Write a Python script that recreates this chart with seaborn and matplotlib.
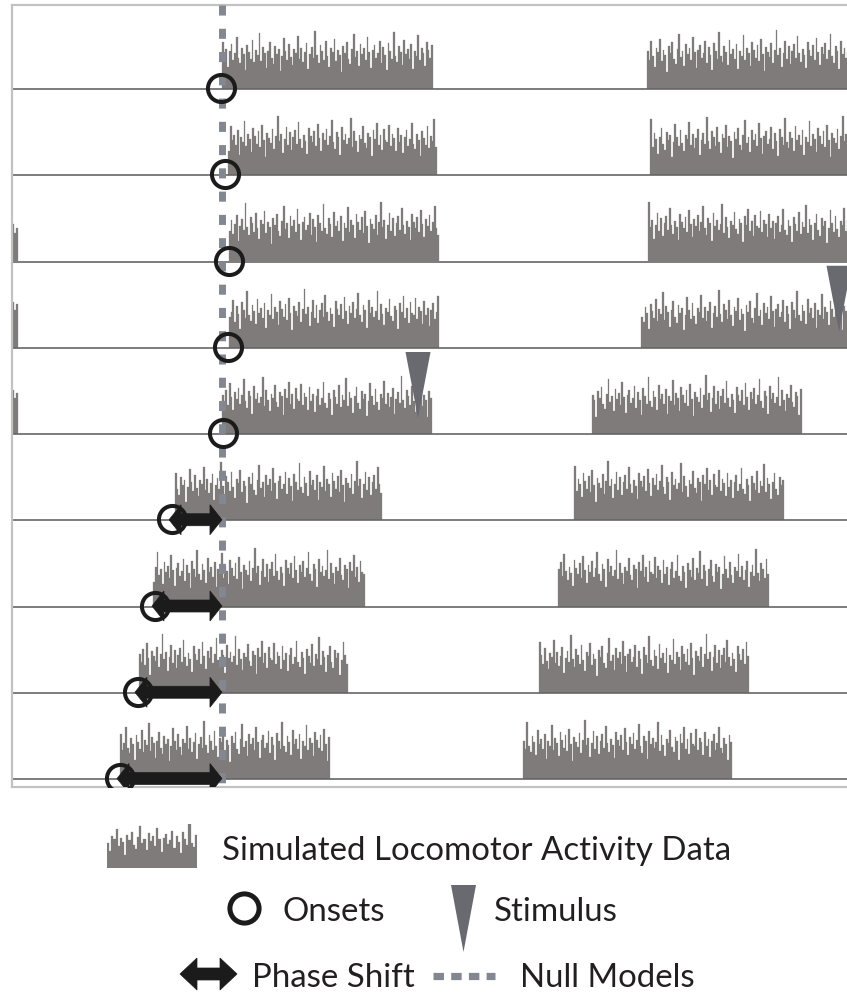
import numpy as np
import matplotlib
matplotlib.use("Agg")
import matplotlib.pyplot as plt
import seaborn as sns
from matplotlib.patches import Polygon

sns.set_theme(style="white")
plt.rcParams['font.family'] = ['Lato', 'DejaVu Sans']

# ---------------- data ----------------
# activity counts per bin (hand-read approximations of the bar heights)
activity = [
    47, 33, 40, 22, 38, 45, 29, 36, 52, 31, 26, 41, 35, 19, 44, 37, 30, 49, 27, 39,
    34, 56, 28, 42, 36, 21, 38, 47, 31, 25, 43, 35, 40, 18, 33, 51, 38, 29, 45, 32,
    24, 40, 36, 53, 30, 41, 27, 37, 46, 20, 35, 42, 31, 58, 34, 26, 44, 38, 29, 48,
    33, 22, 41, 37, 50, 28, 39, 34, 17, 43, 36, 47, 30, 25, 40, 55, 32, 38, 23, 45,
    35, 41, 29, 52, 37, 21, 39, 44, 31, 36, 48, 26, 42, 34, 19, 46, 38, 30, 57, 33,
    27, 43, 37, 24, 49, 35, 40, 30, 45, 20, 38, 33, 54, 29, 41, 36, 23, 47, 39, 31,
    44, 28, 50, 35, 18, 42, 37, 32, 46, 26, 39, 59, 34, 41, 22, 36, 48, 30, 43, 25,
    38, 45, 31, 53, 36, 27, 40, 34, 21, 47, 39, 33, 44, 29, 51, 37, 24, 42, 35, 46,
    30, 39, 55, 33, 26, 43, 38, 20, 48, 35, 41, 31, 37, 57, 28, 44, 34, 23, 40, 36,
    49, 32, 27, 42, 38, 19, 45, 36, 52, 30, 40, 25, 46, 35, 33, 50, 29, 41, 37, 24,
]

# activity bouts per day (hours on a 48 h double-plotted axis): start, end, offset into activity
row_bouts = [
    [(12.07, 24.20, 0),   (36.50, 48.50, 57)],
    [(12.42, 24.43, 103), (36.68, 48.50, 21)],
    [(12.47, 24.55, 44),  (36.56, 48.50, 131)],
    [(12.47, 24.55, 88),  (36.16, 48.50, 9)],
    [(12.07, 24.14, 150), (33.34, 45.41, 66)],
    [(9.37, 21.27, 27),   (32.31, 44.38, 112)],
    [(8.11, 20.29, 73),   (31.39, 43.52, 140)],
    [(7.30, 19.31, 118),  (30.29, 42.37, 35)],
    [(6.21, 18.28, 5),    (29.37, 41.39, 96)],
]
# tail of the previous day's bout visible at the left edge (rows 3-5)
tail_rows = [2, 3, 4]
tail_counts = [[37, 28, 33], [46, 38, 44], [44, 36, 41]]

onsets = [12.01, 12.24, 12.47, 12.42, 12.13, 9.20, 8.22, 7.24, 6.21]
null_model = 12.07
shift_rows = [5, 6, 7, 8]
stimulus_rows = [3, 4]
stimulus_times = [47.54, 23.34]

legend_labels = ["Simulated Locomotor Activity Data", "Onsets", "Stimulus",
                 "Phase Shift", "Null Models"]

# ---------------- style / layout ----------------
W_PX, H_PX = 847, 996
BAR = '#7f7b7b'
TRI = '#696a6f'
DASH = '#838890'
INK = '#1b1b1b'
TXT = '#231f20'
BIN_H = 0.10
SPAN = 48.0
LEFT_PX = 12
PX_PER_H = (W_PX - LEFT_PX) / SPAN
ROW_PX = 86.25
BASE0 = 89.0
TOP_PX, BOT_PX = 5, 787

def px2fig_x(px):
    return px / W_PX

def px2fig_y(px):
    return 1 - px / H_PX

fig = plt.figure(figsize=(W_PX / 100, H_PX / 100), dpi=100)

def take(start, n):
    return [activity[(start + k) % len(activity)] for k in range(n)]

def bout_hist(ax, s, e, counts):
    n = len(counts)
    edges = np.linspace(s, e, n + 1)
    centers = (edges[:-1] + edges[1:]) / 2
    sns.histplot(x=list(centers), weights=list(counts), bins=list(edges), ax=ax,
                 color=BAR, alpha=1, edgecolor=BAR, linewidth=0.2, legend=False)

# row axes with the actogram bars
for i, bouts in enumerate(row_bouts):
    base = BASE0 + ROW_PX * i
    rax = fig.add_axes([px2fig_x(LEFT_PX), px2fig_y(base),
                        (W_PX - LEFT_PX) / W_PX, ROW_PX / H_PX])
    for (s, e, off) in bouts:
        n = int(round((e - s) / BIN_H))
        bout_hist(rax, s, e, take(off, n))
    if i in tail_rows:
        tc = tail_counts[tail_rows.index(i)]
        bout_hist(rax, 0.0, len(tc) * 0.11, tc)
    rax.set_xlim(0, SPAN)
    rax.set_ylim(0, ROW_PX)
    rax.axis('off')

# overlay axes: frame, baselines, null model, onsets, shifts, stimuli
ax = fig.add_axes([px2fig_x(LEFT_PX), px2fig_y(BOT_PX),
                   (W_PX - LEFT_PX) / W_PX + 0.01, (BOT_PX - TOP_PX) / H_PX])
ax.patch.set_alpha(0)
ax.set_xlim(0, SPAN * (W_PX - LEFT_PX + 0.01 * W_PX) / (W_PX - LEFT_PX))
ax.set_ylim(BOT_PX, TOP_PX)
ax.set_xticks([]); ax.set_yticks([])
for side in ['top', 'left', 'bottom']:
    ax.spines[side].set_color('#c2c2c2')
    ax.spines[side].set_linewidth(1.6)
ax.spines['right'].set_visible(False)

bases = [BASE0 + ROW_PX * i for i in range(len(row_bouts))]
ax.hlines(bases, 0, SPAN + 1, color='#666666', lw=1.2, zorder=2)

ax.plot([null_model, null_model], [TOP_PX, BOT_PX - 4], color=DASH, lw=5.0,
        dashes=(1.45, 1.9), solid_capstyle='butt', dash_capstyle='butt', zorder=3)

def double_arrow(a, x0, x1, y, xs, shaft=12, headw=30, headl=12, z=4):
    hl = headl / xs
    sh, hw = shaft / 2, headw / 2
    verts = [(x0, y), (x0 + hl, y - hw), (x0 + hl, y - sh), (x1 - hl, y - sh),
             (x1 - hl, y - hw), (x1, y), (x1 - hl, y + hw), (x1 - hl, y + sh),
             (x0 + hl, y + sh), (x0 + hl, y + hw)]
    a.add_patch(Polygon(verts, closed=True, facecolor=INK, edgecolor=INK,
                        lw=0.5, zorder=z))

for r in shift_rows:
    double_arrow(ax, onsets[r] - 3 / PX_PER_H, null_model, bases[r] - 0.5, PX_PER_H)

ax.plot(onsets, [b - 1 for b in bases], 'o', ms=19.5, mfc='none', mec=INK,
        mew=2.9, zorder=5)

def stim_tri(a, x, ytop, xs, w=25, h=66):
    hw = w / 2 / xs
    a.add_patch(Polygon([(x - hw, ytop), (x + hw, ytop), (x, ytop + h)],
                        closed=True, facecolor=TRI, edgecolor='none', zorder=6))

for r, t in zip(stimulus_rows, stimulus_times):
    stim_tri(ax, t, bases[r] - 82, PX_PER_H)

# ---------------- legend (pixel layout) ----------------
lax = fig.add_axes([0, 0, 1, 1])
lax.patch.set_alpha(0)
lax.set_xlim(0, W_PX); lax.set_ylim(H_PX, 0)
lax.axis('off')

# activity icon
iax = fig.add_axes([px2fig_x(107), px2fig_y(868), 90 / W_PX, 44 / H_PX])
icon = take(60, 42)
bout_hist(iax, 0, 42, icon)
iax.set_xlim(0, 42); iax.set_ylim(0, max(icon))
iax.axis('off')

FS = 23.8
lax.text(222, 860, legend_labels[0], fontsize=FS, color=TXT, va='baseline', ha='left')
lax.plot([244], [908], 'o', ms=21, mfc='none', mec=INK, mew=3.6)
lax.text(283, 921, legend_labels[1], fontsize=FS, color=TXT, va='baseline', ha='left')
stim_tri(lax, 463.5, 885, 1, w=25, h=67)
lax.text(494, 921, legend_labels[2], fontsize=FS, color=TXT, va='baseline', ha='left')
double_arrow(lax, 180, 237, 974, 1, shaft=12, headw=32, headl=17)
lax.text(252, 987, legend_labels[3], fontsize=FS, color=TXT, va='baseline', ha='left')
lax.plot([433, 495], [976, 976], color=DASH, lw=5.2, dashes=(1.45, 1.0),
         dash_capstyle='butt')
lax.text(520, 987, legend_labels[4], fontsize=FS, color=TXT, va='baseline', ha='left')

fig.savefig('out.png', dpi=100)
